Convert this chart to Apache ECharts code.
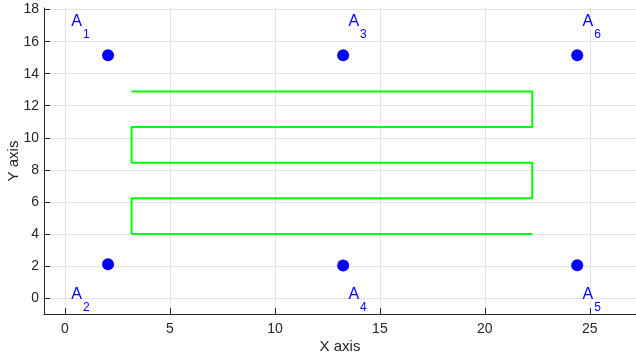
<!DOCTYPE html>
<html>
<head>
<meta charset="utf-8">
<script src="https://cdn.jsdelivr.net/npm/echarts@6/dist/echarts.min.js"></script>
<style>html,body{margin:0;padding:0;background:#fff}#c{width:636px;height:358px}</style>
</head>
<body>
<div id="c"></div>
<script>
// Point data
const pointNames = ['1', '2', '3', '4', '5', '6'];
const pointX = [2.05, 2.05, 13.25, 13.25, 24.4, 24.4];
const pointY = [15.15, 2.1, 15.15, 2.02, 2.05, 15.15];
// Label anchors (data coordinates)
const labelX = [0.3, 0.3, 13.5, 13.5, 24.65, 24.65];
const labelY = [17.76, 0.69, 17.76, 0.69, 0.69, 17.76];
// Green serpentine path
const pathX = [3.17, 22.26, 22.26, 3.17, 3.17, 22.26, 22.26, 3.17, 3.17, 22.26];
const pathY = [12.89, 12.89, 10.67, 10.67, 8.44, 8.44, 6.22, 6.22, 4.0, 4.0];
// Ticks
const xTicks = [0, 5, 10, 15, 20, 25];
const yTicks = [0, 2, 4, 6, 8, 10, 12, 14, 16, 18];

const axisColor = '#262626';
const gridColor = '#e3e3e3';
const font = '"Liberation Sans", Arial, Helvetica, sans-serif';

const chart = echarts.init(document.getElementById('c'));
chart.setOption({
  animation: false,
  backgroundColor: '#fff',
  grid: { left: 44, right: 0, top: 8, bottom: 44, containLabel: false, outerBoundsMode: 'none' },
  xAxis: {
    type: 'value', min: -1, max: 27.2,
    name: 'X axis', nameLocation: 'middle', nameGap: 25, nameMoveOverlap: false,
    nameTextStyle: { fontSize: 15, color: axisColor, fontFamily: font },
    axisLine: { show: true, onZero: false, lineStyle: { color: axisColor, width: 1 } },
    axisTick: { show: true, inside: true, length: 6, customValues: xTicks, lineStyle: { color: axisColor, width: 1 } },
    axisLabel: { customValues: xTicks, fontSize: 14, color: axisColor, fontFamily: font, margin: 8 },
    splitLine: { show: true, lineStyle: { color: gridColor, width: 1 } }
  },
  yAxis: {
    type: 'value', min: -1, max: 18.1,
    name: 'Y axis', nameLocation: 'middle', nameGap: 23, nameRotate: 90, nameMoveOverlap: false,
    nameTextStyle: { fontSize: 15, color: axisColor, fontFamily: font },
    axisLine: { show: true, onZero: false, lineStyle: { color: axisColor, width: 1 } },
    axisTick: { show: true, inside: true, length: 6, customValues: yTicks, lineStyle: { color: axisColor, width: 1 } },
    axisLabel: { customValues: yTicks, fontSize: 14, color: axisColor, fontFamily: font, margin: 5 },
    splitLine: { show: true, lineStyle: { color: gridColor, width: 1 } }
  },
  series: [
    {
      type: 'line',
      data: pathX.map((x, i) => [x, pathY[i]]),
      showSymbol: false, symbol: 'none',
      lineStyle: { color: '#00ff00', width: 2 },
      z: 2
    },
    {
      type: 'scatter',
      data: pointX.map((x, i) => [x, pointY[i]]),
      symbol: 'circle', symbolSize: 12,
      itemStyle: { color: '#0000ff', opacity: 1 },
      z: 3
    },
    {
      type: 'scatter',
      data: labelX.map((x, i) => ({ value: [x, labelY[i]], name: pointNames[i] })),
      symbolSize: 0,
      silent: true,
      itemStyle: { opacity: 1 },
      label: {
        show: true, position: 'inside', align: 'left', verticalAlign: 'top',
        formatter: p => '{a|A}{s|' + p.name + '}',
        rich: {
          a: { fontSize: 16, lineHeight: 16, color: '#0000ff', fontFamily: font, verticalAlign: 'top' },
          s: { fontSize: 12, lineHeight: 12, color: '#0000ff', fontFamily: font, verticalAlign: 'top', padding: [15, 0, 0, 1] }
        }
      },
      z: 4
    }
  ]
});
</script>
</body>
</html>
